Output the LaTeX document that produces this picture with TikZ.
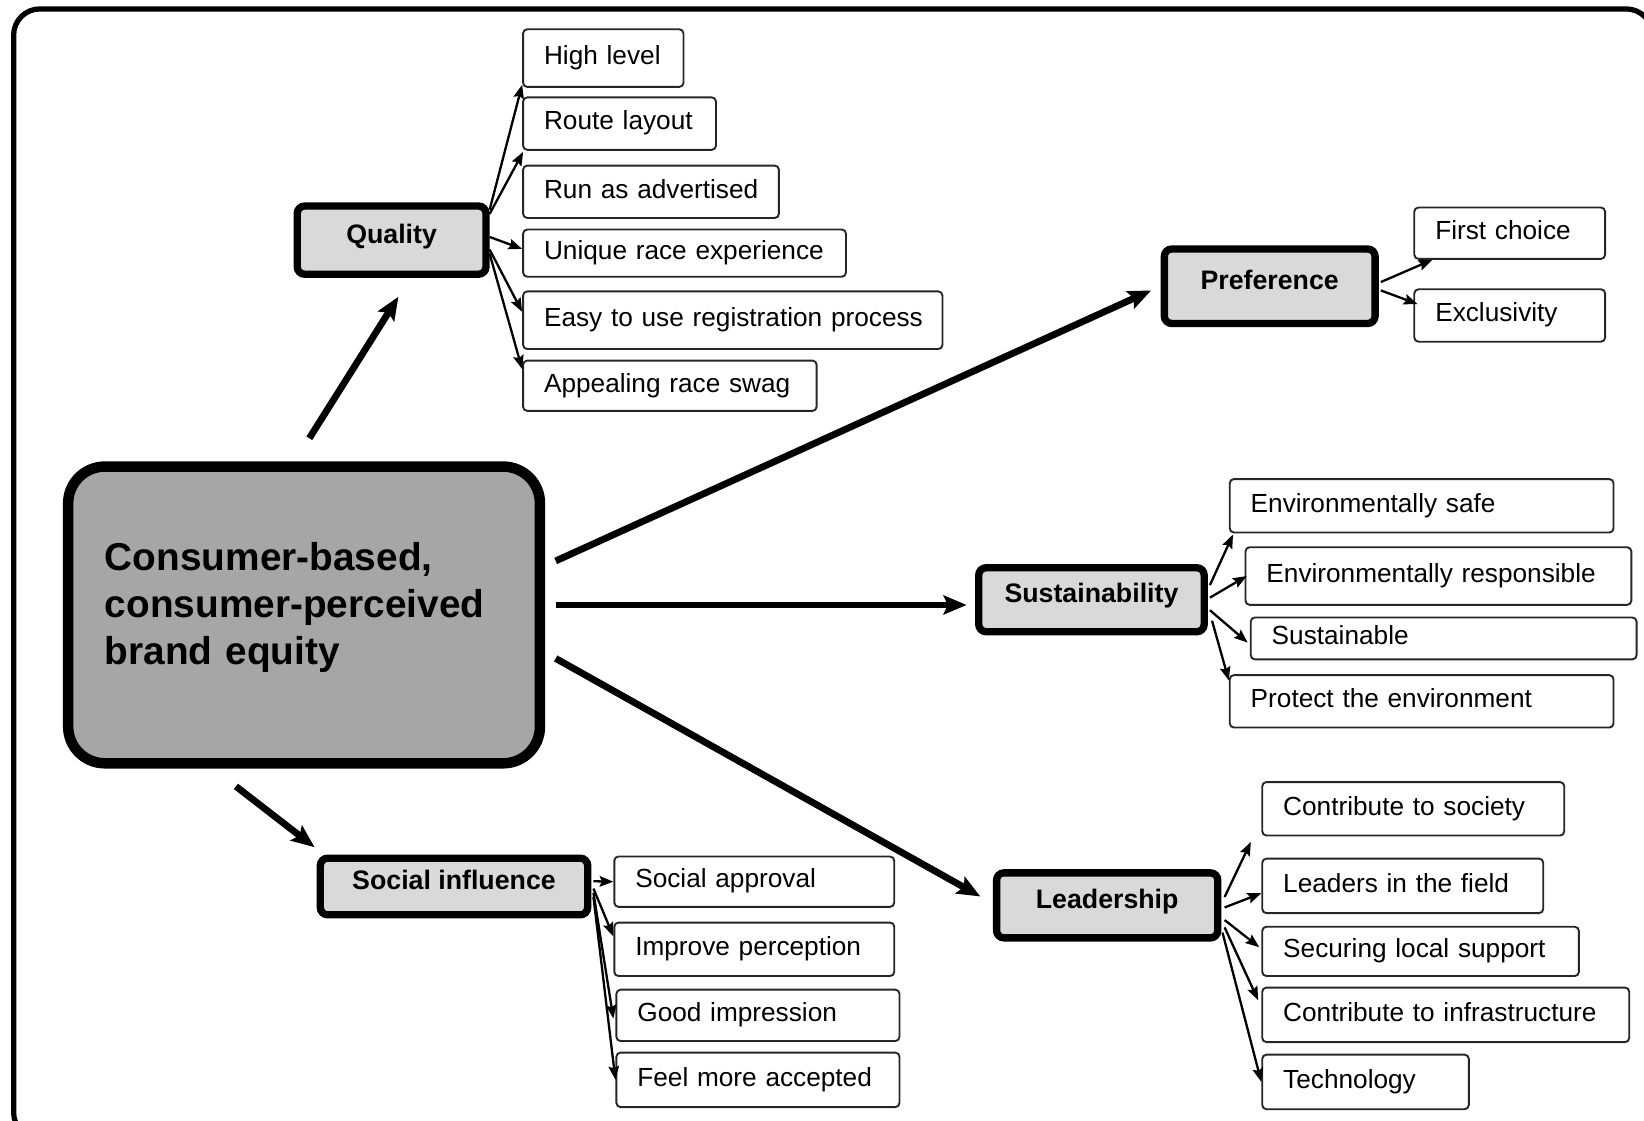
\documentclass[tikz,border=0pt]{standalone}
\usepackage{fontspec}
\setmainfont{Liberation Sans}
\usetikzlibrary{arrows.meta,calc}

\tikzset{
  frame/.style={line width=5pt, rounded corners=25pt},
  corebox/.style={draw, line width=10pt, rounded corners=35pt, fill=black!35,
    minimum width=450pt, minimum height=283pt, inner sep=0pt,
    text width=380pt, align=left, text height=27pt, text depth=112pt,
    font=\bfseries\fontsize{37}{45}\selectfont},
  cat/.style 2 args={draw, line width=7pt, rounded corners=7pt, fill=black!15,
    minimum width=#1pt, minimum height=#2pt, inner sep=0pt,
    text height=18pt, text depth=12pt, font=\bfseries\fontsize{25.5}{28}\selectfont},
  leaf/.style n args={3}{draw=black!85, line width=1.8pt, rounded corners=4pt,
    fill=white, anchor=north west, minimum width=#1pt, text width=#2pt,
    minimum height=#3pt, align=left, inner xsep=20pt, inner ysep=0pt,
    text height=18pt, text depth=6pt, font=\fontsize{25}{28}\selectfont},
  bigarrow/.style={line width=6.5pt, -{Stealth[length=22pt,width=18pt,inset=4pt]}},
  smallarrow/.style={line width=2.2pt, -{Stealth[length=13pt,width=10pt,inset=2pt]}},
}

\begin{document}
\begin{tikzpicture}[x=1pt,y=-1pt]
\useasboundingbox (0,0) rectangle (1568,1069);
\begin{scope}
  \clip (0,0) rectangle (1568,1069);
  \draw[frame] (13,8.5) rectangle (1576,1086);
\end{scope}

% central concept
\node[corebox] (cb) at (290,586.5) {Consumer-based,\\consumer-perceived\\brand equity};

% dimensions
\node[cat={180}{65}]  (q)  at (373.5,229)  {Quality};
\node[cat={201}{71}]  (pr) at (1211,273)   {Preference};
\node[cat={215}{61}]  (sb) at (1041,572)   {Sustainability};
\node[cat={211}{62}]  (le) at (1056,863.5) {Leadership};
\node[cat={255}{54}]  (so) at (433,845.5)  {Social influence};

% quality items
\node[leaf={153}{113}{55}] (hl) at (498,27)  {\mbox{High level}};
\node[leaf={184}{144}{50}] (rl) at (498,92)  {\mbox{Route layout}};
\node[leaf={244}{204}{50}] (ra) at (498,157) {\mbox{Run as advertised}};
\node[leaf={308}{268}{45}] (ur) at (498,218) {\mbox{Unique race experience}};
\node[leaf={400}{360}{55}] (ez) at (498,277) {\mbox{Easy to use registration process}};
\node[leaf={280}{240}{48}] (ap) at (498,343) {\mbox{Appealing race swag}};

% preference items
\node[leaf={182}{142}{49}] (fc) at (1348,197) {\mbox{First choice}};
\node[leaf={182}{142}{50}] (ex) at (1348,275) {\mbox{Exclusivity}};

% sustainability items
\node[leaf={366}{326}{51}] (es)  at (1172,456) {\mbox{Environmentally safe}};
\node[leaf={368}{328}{55}] (er)  at (1187,521) {\mbox{Environmentally responsible}};
\node[leaf={368}{328}{40}] (sus) at (1192,588) {\mbox{Sustainable}};
\node[leaf={366}{326}{50}] (pe)  at (1172,643) {\mbox{Protect the environment}};

% leadership items
\node[leaf={288}{248}{51}] (cs) at (1203,745)  {\mbox{Contribute to society}};
\node[leaf={268}{228}{52}] (lf) at (1203,818)  {\mbox{Leaders in the field}};
\node[leaf={302}{262}{47}] (sl) at (1203,883)  {\mbox{Securing local support}};
\node[leaf={350}{310}{52}] (ci) at (1203,941)  {\mbox{Contribute to infrastructure}};
\node[leaf={197}{157}{52}] (te) at (1203,1005) {\mbox{Technology}};

% social influence items
\node[leaf={267}{227}{48}] (sa) at (585,816)  {\mbox{Social approval}};
\node[leaf={267}{227}{51}] (ip) at (585,879)  {\mbox{Improve perception}};
\node[leaf={270}{230}{49}] (gi) at (587,943)  {\mbox{Good impression}};
\node[leaf={270}{230}{52}] (fm) at (587,1003) {\mbox{Feel more accepted}};

% main arrows
\draw[bigarrow] ($(cb.north)+(5,-22)$) -- ($(q.south)+(6.5,18)$);
\draw[bigarrow] ($(cb.east)+(10,-51.5)$) -- ($(pr.west)+(-9,4)$);
\draw[bigarrow] ($(cb.east)+(10,-9.5)$) -- ($(sb.west)+(-8,5)$);
\draw[bigarrow] ($(cb.east)+(10,41.5)$) -- ($(le.west)+(-12,-8.5)$);
\draw[bigarrow] ($(cb.south)+(-65,17)$) -- ($(so.north west)+(-2,-7)$);

% quality branches
\draw[smallarrow] ($(q.east)+(0,-29)$) -- ($(hl.south west)+(0,-3)$);
\draw[smallarrow] ($(q.east)+(0,-25)$) -- ($(rl.south west)+(1,1)$);
\draw[smallarrow] ($(q.east)+(0,-3)$)  -- ($(ur.west)+(0,-4)$);
\draw[smallarrow] ($(q.east)+(0,9)$)   -- ($(ez.west)+(0,-8)$);
\draw[smallarrow] ($(q.east)+(0,13)$)  -- ($(ap.north west)+(0,9)$);

% preference branches
\draw[smallarrow] ($(pr.east)+(2,-4)$) -- ($(fc.south west)+(18,0)$);
\draw[smallarrow] ($(pr.east)+(2,4)$)  -- ($(ex.north west)+(4,15)$);

% sustainability branches
\draw[smallarrow] ($(sb.east)+(2,-14)$) -- ($(es.south west)+(4,1)$);
\draw[smallarrow] ($(sb.east)+(2,-2)$)  -- ($(er.west)+(2,0)$);
\draw[smallarrow] ($(sb.east)+(2,10)$)  -- ($(sus.west)+(-2,4)$);
\draw[smallarrow] ($(sb.east)+(4,20)$)  -- ($(pe.north west)+(0,6)$);

% leadership branches
\draw[smallarrow] ($(le.east)+(3,-8)$) -- ($(lf.north west)+(-10,-15)$);
\draw[smallarrow] ($(le.east)+(3,2)$)  -- ($(lf.west)+(0,7)$);
\draw[smallarrow] ($(le.east)+(3,14)$) -- ($(sl.west)+(-2,-4)$);
\draw[smallarrow] ($(le.east)+(3,21)$) -- ($(ci.north west)+(-3,13)$);
\draw[smallarrow] ($(le.east)+(1,26)$) -- (te.west);

% social influence branches
\draw[smallarrow] ($(so.east)+(2,-5)$) -- (sa.west);
\draw[smallarrow] ($(so.east)+(2,2)$)  -- ($(ip.north west)+(0,14)$);
\draw[smallarrow] ($(so.east)+(2,6)$)  -- ($(gi.west)+(-2,3)$);
\draw[smallarrow] ($(so.east)+(2,10)$) -- (fm.west);
\end{tikzpicture}
\end{document}
